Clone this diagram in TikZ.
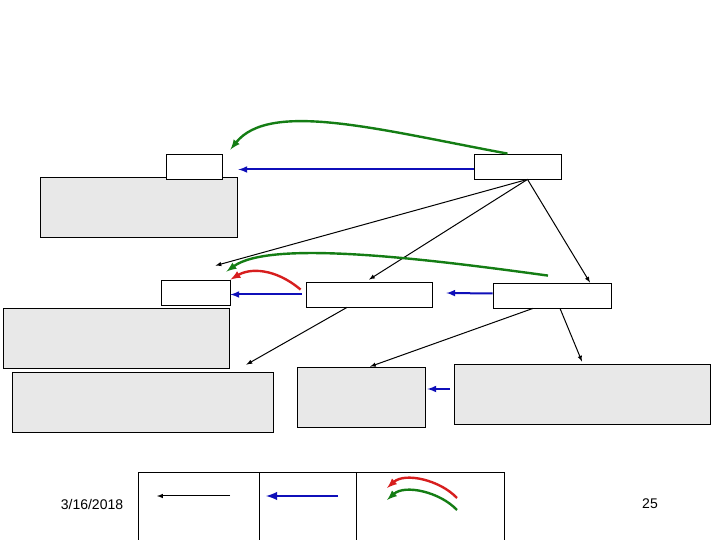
\documentclass[tikz,border=0pt]{standalone}
\usepackage{fontspec}
\setmainfont{Liberation Sans}
\usetikzlibrary{%
  arrows,%
  calc%
}
\tikzset{>=latex}
\definecolor{linkblue}{RGB}{15,15,185}
\definecolor{backgreen}{RGB}{20,125,20}
\definecolor{backred}{RGB}{215,30,30}
\tikzset{
  box/.style={draw,fill=white,inner sep=0pt,line width=0.8pt},
  shadebox/.style={box,fill=gray!18},
  child/.style={->,line width=1pt},
  sibling/.style={->,linkblue,line width=2pt},
  backtrack/.style={->,line width=2.4pt}
}

\begin{document}
\begin{tikzpicture}[x=1pt,y=1pt]
        \useasboundingbox (0,0) rectangle (720,540);
        % boxes
        \node[shadebox,minimum width=197pt,minimum height=60pt] (ainfo) at (138.5,333) {};
        \node[box,minimum width=56pt,minimum height=25pt] (a) at (194,373.5) {};
        \node[box,minimum width=87pt,minimum height=25pt] (b) at (517.5,373.5) {};
        \node[box,minimum width=69pt,minimum height=25pt] (c) at (195.5,247.5) {};
        \node[shadebox,minimum width=226pt,minimum height=60pt] (cinfo) at (116,202) {};
        \node[box,minimum width=126pt,minimum height=25pt] (d) at (369,245.5) {};
        \node[box,minimum width=118pt,minimum height=25pt] (e) at (552,244.5) {};
        \node[shadebox,minimum width=261pt,minimum height=60pt] (f) at (142.5,138) {};
        \node[shadebox,minimum width=128pt,minimum height=60pt] (g) at (361,143) {};
        \node[shadebox,minimum width=256pt,minimum height=60pt] (h) at (582,146) {};
        % links
        \draw[sibling] ([yshift=-3pt]b.west) -- ([xshift=16pt,yshift=-3pt]a.east);
        \draw[backtrack,backgreen] ([xshift=-10pt]b.north) .. controls (380,410)
        and (270,440) .. ([xshift=8pt,yshift=4pt]a.north east);
        \draw[child] ([xshift=10pt]b.south) -- ($(c.north)+(20,14)$);
        \draw[child] ([xshift=10pt]b.south) -- ([yshift=2pt]d.north);
        \draw[child] ([xshift=10pt]b.south) -- ([xshift=38pt]e.north);
        \draw[backtrack,backgreen] ([xshift=-4pt,yshift=7pt]e.north) .. controls (420,282)
        and (270,300) .. ($(c.north east)+(-4,8)$);
        \draw[backtrack,backred] ([xshift=-5pt,yshift=-8pt]d.north west) .. controls (275,272)
        and (250,272) .. (c.north east);
        \draw[sibling] ([xshift=-4pt]d.west) -- (c.east |- d.west);
        \draw[sibling] ([yshift=2pt]e.west) -- ($(d.east)+(14,1.5)$);
        \draw[child] ([xshift=-22pt]d.south) -- ($(f.north east)+(-27,7)$);
        \draw[child] ([xshift=-19pt]e.south) -- ([xshift=9pt]g.north);
        \draw[child] ([xshift=8pt]e.south) -- ([yshift=2pt]h.north);
        \draw[sibling] ($(h.west)+(-4,5)$) -- ($(g.east |- h.west)+(2,5)$);
        % legend
        \node[box,minimum width=121pt,minimum height=73pt] (key1) at (198.5,31.5) {};
        \node[box,minimum width=97pt,minimum height=73pt] (key2) at (307.5,31.5) {};
        \node[box,minimum width=148pt,minimum height=73pt] (key3) at (430,31.5) {};
        \draw[child] (230,44) -- (157,44);
        \draw[->,linkblue,line width=2.8pt] (338,44) -- (266,44);
        \draw[backtrack,backred] (457,42) .. controls (440,60) and (405,68) .. (387,52);
        \draw[backtrack,backgreen] (457,30) .. controls (440,48) and (405,56) .. (387,40);
        \node[font=\fontsize{14}{16}\selectfont] (date) at (92,36) {3/16/2018};
        \node[font=\fontsize{14}{16}\selectfont] (page) at (650,36) {25};
      \end{tikzpicture}
\end{document}
